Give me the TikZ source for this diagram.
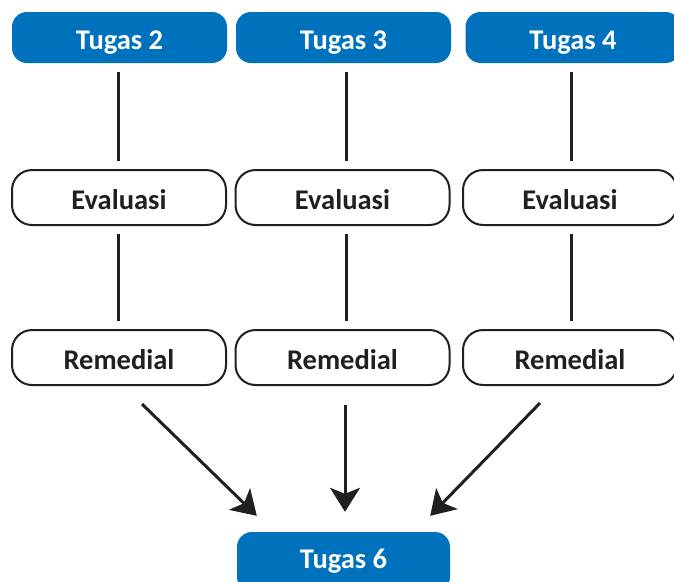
\documentclass[tikz,border=0pt]{standalone}
\usepackage{fontspec}
\setmainfont{Carlito}
\usetikzlibrary{arrows.meta,positioning}
\definecolor{tblue}{RGB}{0,113,188}
\definecolor{tink}{RGB}{35,31,32}
\tikzset{
  boxtext/.style={font=\bfseries\fontsize{28.5}{32}\selectfont, text height=23.4pt, text depth=0pt},
  bluebox/.style={boxtext, fill=tblue, rounded corners=15pt, minimum width=215pt, minimum height=51pt,
    inner sep=0pt, text=white},
  whitebox/.style={boxtext, draw=tink, line width=2pt, fill=white, rounded corners=20pt, minimum width=214pt,
    minimum height=55pt, inner sep=0pt, text=tink},
  link/.style={draw=tink, line width=3pt},
  arr/.style={draw=tink, line width=3pt, -{Stealth[length=24pt,width=30pt,inset=6pt]}},
}
\begin{document}
\begin{tikzpicture}[x=1pt,y=-1pt]
\useasboundingbox (0,0) rectangle (674,581);
% top row
\node[bluebox] (t2) at (119.5,37.5) {Tugas 2};
\node[bluebox] (t3) at (343.5,37.5) {Tugas 3};
\node[bluebox] (t4) at (573,37.5) {Tugas 4};
% evaluasi row
\node[whitebox] (e2) at (119,197.5) {Evaluasi};
\node[whitebox] (e3) at (342.5,197.5) {Evaluasi};
\node[whitebox] (e4) at (570,197.5) {Evaluasi};
% remedial row
\node[whitebox] (r2) at (119,357.5) {Remedial};
\node[whitebox] (r3) at (342.5,357.5) {Remedial};
\node[whitebox] (r4) at (570,357.5) {Remedial};
% bottom
\node[bluebox, minimum width=213pt, minimum height=60pt, text height=12.4pt] (t6) at (343.5,562) {Tugas 6};
% vertical links
\draw[link, shorten <=9pt, shorten >=8pt] ([xshift=-1.5pt]t2.south) -- ([xshift=-1pt]e2.north);
\draw[link, shorten <=9pt, shorten >=8pt] ([xshift=2.5pt]t3.south) -- ([xshift=3.5pt]e3.north);
\draw[link, shorten <=9pt, shorten >=8pt] ([xshift=-2pt]t4.south) -- ([xshift=1pt]e4.north);
\draw[link, shorten <=8pt, shorten >=8pt] ([xshift=-1pt]e2.south) -- ([xshift=-1pt]r2.north);
\draw[link, shorten <=8pt, shorten >=8pt] ([xshift=3.5pt]e3.south) -- ([xshift=3.5pt]r3.north);
\draw[link, shorten <=8pt, shorten >=8pt] ([xshift=1pt]e4.south) -- ([xshift=1pt]r4.north);
% arrows
\draw[arr] ([shift={(23,18)}]r2.south) -- ([shift={(20,-16)}]t6.north west);
\draw[arr] ([shift={(2.5,19)}]r3.south) -- ([shift={(1.5,-20)}]t6.north);
\draw[arr] ([shift={(-30,17)}]r4.south) -- ([shift={(-20,-16)}]t6.north east);
\end{tikzpicture}
\end{document}
